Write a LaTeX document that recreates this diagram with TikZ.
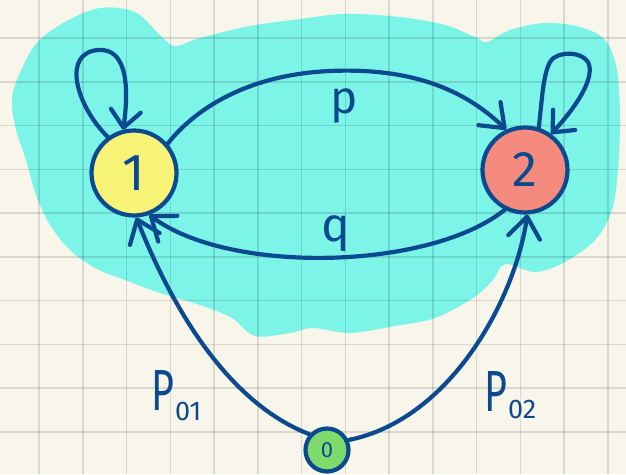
\documentclass[tikz,border=0pt]{standalone}
\usepackage{fontspec}
\setmainfont{Fira Sans}
\usetikzlibrary{arrows.meta}
\definecolor{paper}{HTML}{F8F5EB}
\definecolor{ink}{HTML}{0B4A8E}
\definecolor{blob}{HTML}{7DF4E8}
\definecolor{yel}{HTML}{F6F377}
\definecolor{sal}{HTML}{F48B7E}
\definecolor{grn}{HTML}{7FDB6C}
\begin{document}
\begin{tikzpicture}[x=1pt,y=-1pt,
  stroke/.style={draw=ink, line width=4.2pt, line cap=round, line join=round},
  edge/.style={stroke, -{Straight Barb[round,length=21pt,width=32pt]}},
  loopedge/.style={stroke, -{Straight Barb[round,length=17pt,width=30pt]}},
  state/.style={circle, draw=ink, line width=4.2pt, inner sep=0pt, minimum size=85pt, text=ink},
  lab/.style={text=ink, inner sep=0pt},
  gridline/.style={draw=black, draw opacity=0.12, line width=1.5pt}]
\useasboundingbox (0,0) rectangle (626,474);
\fill[paper] (0,0) rectangle (626,474);
% cyan highlight blob
\fill[blob] plot[smooth cycle, tension=0.55] coordinates {
 (15,85) (35,45) (65,22) (100,8) (135,12) (160,35) (175,46) (200,38) (250,26)
 (300,19) (345,14) (400,17) (445,25) (475,37) (487,42) (510,30) (545,23)
 (580,27) (605,40) (617,70) (620,120) (618,170) (612,210) (595,240) (565,262)
 (535,272) (505,264) (493,280) (473,298) (435,318) (395,326) (350,333)
 (313,328) (290,333) (255,336) (232,318) (200,305) (160,293) (125,280)
 (95,268) (70,250) (50,225) (36,195) (26,160) (16,130) (12,105)};
% grid paper
\foreach \i in {0,...,13} \draw[gridline] (39+43.75*\i,0) -- (39+43.75*\i,474);
\foreach \j in {0,...,9} \draw[gridline] (0,38+43.75*\j) -- (626,38+43.75*\j);
% states
\node[state, fill=yel] (n1) at (134,173) {\fontsize{52}{52}\selectfont 1};
\node[state, fill=sal] (n2) at (525,170) {\fontsize{50}{50}\selectfont 2};
\node[state, fill=grn, minimum size=43pt] (n0) at (327,450) {\fontsize{22}{22}\selectfont 0};
% self loops
\draw[loopedge] (n1.126) .. controls (80,110) and (62,60) .. (92,51)
   .. controls (125,43) and (130,80) .. (n1.104);
\draw[loopedge] (n2.72) .. controls (542,100) and (543,75) .. (550,62)
   .. controls (555,52) and (580,50) .. (588,62)
   .. controls (596,78) and (575,108) .. (n2.54);
% transitions
\draw[edge] (n1.41) .. controls (190,115) and (240,75) .. (330,71)
   .. controls (420,67) and (470,95) .. (n2.115);
\draw[edge] (n2.243) .. controls (430,270) and (230,275) .. (n1.290);
\draw[edge] (n0.138) .. controls (220,400) and (165,290) .. (n1.273);
\draw[edge] (n0.25) .. controls (450,420) and (515,300) .. (n2.273);
% labels
\node[lab] (lp) at (344,106) {\fontsize{46}{46}\selectfont p};
\node[lab] (lq) at (336,234) {\fontsize{48}{48}\selectfont q};
\node[lab, anchor=base west] (l01) at (151,410) {\fontsize{58}{58}\selectfont\scalebox{0.68}[1]{P}\kern1pt\raisebox{-10pt}{\fontsize{27}{27}\selectfont 01}};
\node[lab, anchor=base west] (l02) at (484,411) {\fontsize{58}{58}\selectfont\scalebox{0.68}[1]{P}\kern1pt\raisebox{-7pt}{\fontsize{27}{27}\selectfont 02}};
\end{tikzpicture}
\end{document}
